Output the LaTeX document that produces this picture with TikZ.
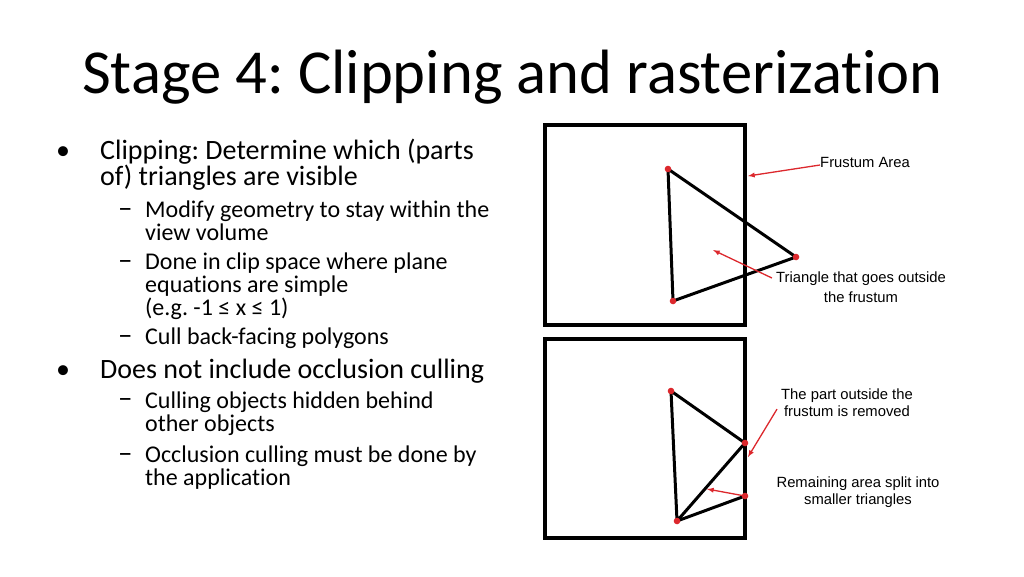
\documentclass[tikz,border=0pt]{standalone}
\usepackage{fontspec}
\setmainfont{Carlito}[Ligatures=NoCommon]
\newfontfamily\labelfont{Liberation Sans}
\usetikzlibrary{arrows}
\definecolor{markred}{RGB}{220,40,45}
\frenchspacing

\begin{document}
\begin{tikzpicture}[x=1pt,y=-1pt,
        every node/.style={inner sep=0pt},
        boxline/.style={line width=4pt},
        triline/.style={line width=3pt, line cap=round, line join=round},
        pointer/.style={-latex, markred, line width=1.3pt},
        lbl/.style={font=\labelfont\fontsize{14.8}{17}\selectfont, align=center},
        itemtext/.style={anchor=base west, font=\fontsize{28}{26}\selectfont, align=left},
        subtext/.style={anchor=base west, font=\fontsize{24}{23}\selectfont, align=left},
        dashmark/.style={anchor=base west, font=\fontsize{29}{23}\selectfont}]
        \useasboundingbox (0,0) rectangle (1024,576);

        % title
        \node[anchor=base west, font=\fontsize{62.6}{70}\selectfont] (title) at (82,93) {Stage 4: Clipping and rasterization};

        % bullet list (base = last line)
        \node[itemtext] (bulletA) at (56,159) {\textbullet};
        \node[itemtext] (itemA) at (100,185) {Clipping: Determine which (parts\\of) triangles are visible};
        \node[dashmark] (dashA) at (118,217) {--};
        \node[subtext] (subA) at (145,240) {Modify geometry to stay within the\\view volume};
        \node[dashmark] (dashB) at (118,269) {--};
        \node[subtext] (subB) at (145,315) {Done in clip space where plane\\equations are simple\\(e.g. -1 ≤ x ≤ 1)};
        \node[dashmark] (dashC) at (118,344) {--};
        \node[subtext] (subC) at (145,344) {Cull back-facing polygons};
        \node[itemtext] (bulletB) at (56,378) {\textbullet};
        \node[itemtext] (itemB) at (100,378) {Does not include occlusion culling};
        \node[dashmark] (dashD) at (118,407) {--};
        \node[subtext] (subD) at (145,431) {Culling objects hidden behind\\other objects};
        \node[dashmark] (dashE) at (118,462) {--};
        \node[subtext] (subE) at (145,485) {Occlusion culling must be done by\\the application};

        % top: triangle crossing the frustum
        \draw[boxline] (545,125) rectangle (745,325);
        \coordinate (topA) at (668,169);
        \coordinate (topB) at (796,257);
        \coordinate (topC) at (673,301);
        \draw[triline] (topA) -- (topB) -- (topC) -- cycle;
        \foreach \p in {topA,topB,topC}
            \fill[markred] (\p) circle (3.3);

        \node[lbl, anchor=west] (lblFrustum) at (820,162) {Frustum Area};
        \coordinate (frustumTip) at (748,176);
        \draw[pointer] ([yshift=-3pt]lblFrustum.west) -- (frustumTip);

        \node[lbl, font=\labelfont\fontsize{14.8}{20}\selectfont] (lblTriangle) at (861,287) {Triangle that goes outside\\the frustum};
        \coordinate (triangleTip) at (713,250);
        \draw[pointer] ([xshift=-4pt,yshift=9pt]lblTriangle.west) -- (triangleTip);

        % bottom: clipped and split
        \draw[boxline] (545,339) rectangle (745,538);
        \coordinate (botA) at (671,391);
        \coordinate (botP) at (745,443);
        \coordinate (botQ) at (745,496);
        \coordinate (botC) at (677,521);
        \draw[triline] (botA) -- (botP) -- (botC) -- cycle;
        \draw[triline] (botC) -- (botQ);
        \foreach \p in {botA,botP,botQ,botC}
            \fill[markred] (\p) circle (3.3);

        \node[lbl] (lblPart) at (847,403) {The part outside the\\frustum is removed};
        \coordinate (partTip) at (748,457);
        \draw[pointer] ([xshift=-4pt,yshift=8pt]lblPart.south west) -- (partTip);

        \node[lbl] (lblRemain) at (858,492) {Remaining area split into\\smaller triangles};
        \coordinate (remainTip) at (707,489);
        \draw[pointer] (botQ) -- (remainTip);
\end{tikzpicture}
\end{document}
